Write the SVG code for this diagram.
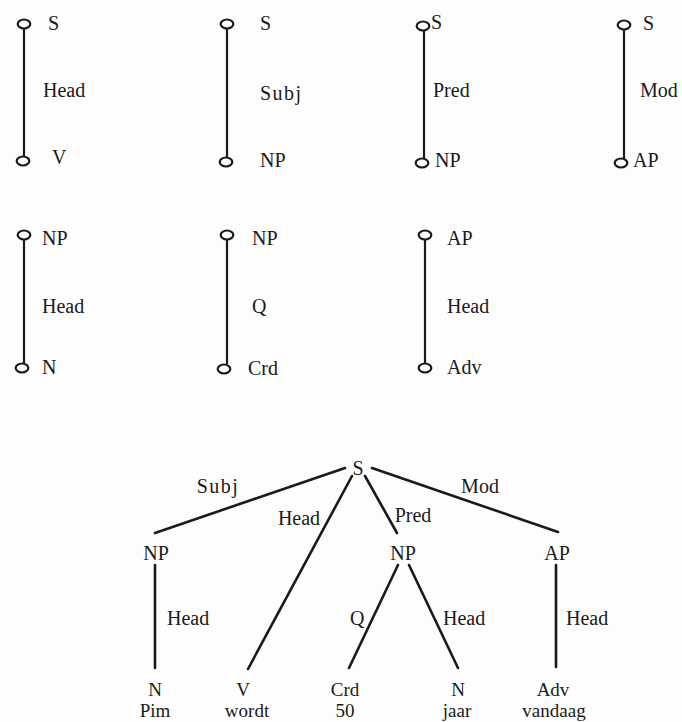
<svg xmlns="http://www.w3.org/2000/svg" width="682" height="722" viewBox="0 0 682 722">
<style>
text{font-family:"Liberation Serif","Times New Roman",serif;font-size:20px;fill:#1a1a1a}
.m{text-anchor:middle}
.lf{font-size:19px}
.sp{letter-spacing:1.5px}
.e{fill:none;stroke:#1a1a1a;stroke-width:2.2}
.c{fill:none;stroke:#1a1a1a;stroke-width:2.2}
.t{stroke:#1a1a1a;stroke-width:2.6;stroke-linecap:round}
</style>
<rect width="682" height="722" fill="#fdfdfd"/>
<g id="connectors">
<line class="e" x1="24" y1="28" x2="24" y2="157"/>
<line class="e" x1="227" y1="28" x2="227" y2="158"/>
<line class="e" x1="424" y1="30" x2="424" y2="159"/>
<line class="e" x1="624" y1="29" x2="624" y2="159"/>
<line class="e" x1="24" y1="239" x2="24" y2="364"/>
<line class="e" x1="227" y1="239" x2="227" y2="364"/>
<line class="e" x1="425" y1="239" x2="425" y2="364"/>
<line class="t" x1="345" y1="468" x2="155" y2="533"/>
<line class="t" x1="352" y1="476" x2="248" y2="669"/>
<line class="t" x1="365" y1="476" x2="397" y2="533"/>
<line class="t" x1="372" y1="468" x2="558" y2="532"/>
<line class="t" x1="155" y1="565" x2="155" y2="668"/>
<line class="t" x1="398" y1="565" x2="349" y2="668"/>
<line class="t" x1="409" y1="565" x2="458" y2="668"/>
<line class="t" x1="556" y1="565" x2="556" y2="667"/>
</g>
<g id="t1">
<ellipse class="c" cx="24" cy="24" rx="6.3" ry="4.5"/>
<ellipse class="c" cx="23" cy="161" rx="6.3" ry="4.5"/>
<text x="48" y="30">S</text>
<text x="43" y="97">Head</text>
<text x="52" y="164">V</text>
</g>
<g id="t2">
<ellipse class="c" cx="227" cy="24" rx="6.3" ry="4.5"/>
<ellipse class="c" cx="226" cy="162" rx="6.3" ry="4.5"/>
<text x="260" y="30">S</text>
<text class="sp" x="260" y="100">Subj</text>
<text x="260" y="167">NP</text>
</g>
<g id="t3">
<ellipse class="c" cx="423" cy="26" rx="6.3" ry="4.5"/>
<ellipse class="c" cx="422" cy="163" rx="6.3" ry="4.5"/>
<text x="431" y="29">S</text>
<text x="433" y="97">Pred</text>
<text x="435" y="167">NP</text>
</g>
<g id="t4">
<ellipse class="c" cx="624" cy="25" rx="6.3" ry="4.5"/>
<ellipse class="c" cx="621" cy="163" rx="6.3" ry="4.5"/>
<text x="643" y="30">S</text>
<text x="640" y="97">Mod</text>
<text x="633" y="167">AP</text>
</g>
<g id="t5">
<ellipse class="c" cx="24" cy="235" rx="6.3" ry="4.5"/>
<ellipse class="c" cx="22" cy="368" rx="6.3" ry="4.5"/>
<text x="42" y="245">NP</text>
<text x="42" y="313">Head</text>
<text x="42" y="374">N</text>
</g>
<g id="t6">
<ellipse class="c" cx="227" cy="235" rx="6.3" ry="4.5"/>
<ellipse class="c" cx="224" cy="369" rx="6.3" ry="4.5"/>
<text x="252" y="245">NP</text>
<text x="252" y="313">Q</text>
<text x="248" y="375">Crd</text>
</g>
<g id="t7">
<ellipse class="c" cx="425" cy="235" rx="6.3" ry="4.5"/>
<ellipse class="c" cx="425" cy="368" rx="6.3" ry="4.5"/>
<text x="447" y="245">AP</text>
<text x="447" y="313">Head</text>
<text x="447" y="374">Adv</text>
</g>
<g id="S"><text class="m" x="358" y="475">S</text></g>
<g id="labels">
<text class="m sp" x="218" y="493">Subj</text>
<text class="m" x="299" y="525">Head</text>
<text class="m" x="413" y="522">Pred</text>
<text class="m" x="480" y="493">Mod</text>
<text x="167" y="625">Head</text>
<text x="350" y="625">Q</text>
<text x="443" y="625">Head</text>
<text x="566" y="625">Head</text>
</g>
<g id="NP1"><text class="m" x="156" y="560">NP</text></g>
<g id="NP2"><text class="m" x="403" y="560">NP</text></g>
<g id="AP"><text class="m" x="557" y="560">AP</text></g>
<g id="N1"><text class="m lf" x="155" y="696">N</text><text class="m lf" x="155" y="717">Pim</text></g>
<g id="V"><text class="m lf" x="243" y="696">V</text><text class="m lf" x="247" y="717">wordt</text></g>
<g id="Crd"><text class="m lf" x="345" y="696">Crd</text><text class="m lf" x="345" y="717">50</text></g>
<g id="N2"><text class="m lf" x="458" y="696">N</text><text class="m lf" x="457" y="717">jaar</text></g>
<g id="Adv"><text class="m lf" x="553" y="696">Adv</text><text class="m lf" x="554" y="717">vandaag</text></g>
</svg>
